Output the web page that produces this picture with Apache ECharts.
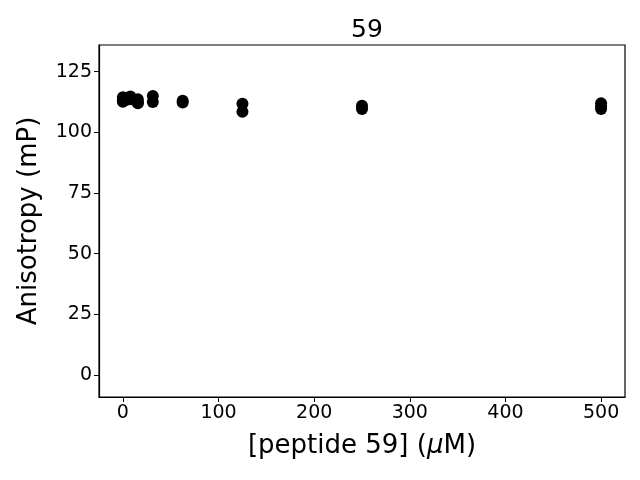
<!DOCTYPE html>
<html><head><meta charset="utf-8">
<script src="https://cdn.jsdelivr.net/npm/echarts@6/dist/echarts.min.js"></script>
<style>html,body{margin:0;padding:0;background:#fff}#c{width:640px;height:480px}</style>
</head><body><div id="c"></div>
<script>
const concentrations = [0,0,0,3.9,3.9,7.8,7.8,15.6,15.6,15.6,31.25,31.25,62.5,62.5,125,125,250,250,500,500,500];
const anisotropy = [114.5,113.2,112.6,114.2,113.4,114.8,113.6,113.6,112.4,112.0,115.0,112.5,113.0,112.3,111.8,108.5,111.0,109.6,112.0,110.6,109.6];
const xTicks = [0,100,200,300,400,500];
const yTicks = [0,25,50,75,100,125];
const font = 'DejaVu Sans';
const chart = echarts.init(document.getElementById('c'));
chart.setOption({
  animation:false,
  title:{text:'59',left:362,textAlign:'center',top:13,textStyle:{fontFamily:font,fontSize:25,fontWeight:'normal',color:'#000'}},
  grid:{left:99,right:15,top:45,bottom:83,show:true,borderColor:'#000',borderWidth:1.2},
  xAxis:{type:'value',min:-25,max:525,
    name:'{a|[peptide 59] (}{i|μ}{a|M)}',nameLocation:'middle',nameGap:36,
    nameTextStyle:{rich:{a:{fontFamily:font,fontSize:26,color:'#000'},i:{fontFamily:font,fontSize:26,fontStyle:'italic',color:'#000'}}},
    axisLine:{show:true,onZero:false,lineStyle:{color:'#000',width:1.2}},
    axisTick:{show:true,length:5,customValues:xTicks,lineStyle:{color:'#000'}},
    axisLabel:{customValues:xTicks,fontFamily:font,fontSize:19,color:'#000',margin:7},
    splitLine:{show:false}},
  yAxis:{type:'value',min:-9.1,max:136,
    name:'Anisotropy (mP)',nameLocation:'middle',nameGap:57,
    nameTextStyle:{fontFamily:font,fontSize:26,color:'#000'},
    axisLine:{show:true,onZero:false,lineStyle:{color:'#000',width:1.2}},
    axisTick:{show:true,length:5,customValues:yTicks,lineStyle:{color:'#000'}},
    axisLabel:{customValues:yTicks,fontFamily:font,fontSize:19,color:'#000',margin:7},
    splitLine:{show:false}},
  series:[{type:'scatter',symbol:'circle',symbolSize:12,itemStyle:{color:'#000',opacity:1},
    data:concentrations.map((c,i)=>[c,anisotropy[i]])}]
});
</script></body></html>
